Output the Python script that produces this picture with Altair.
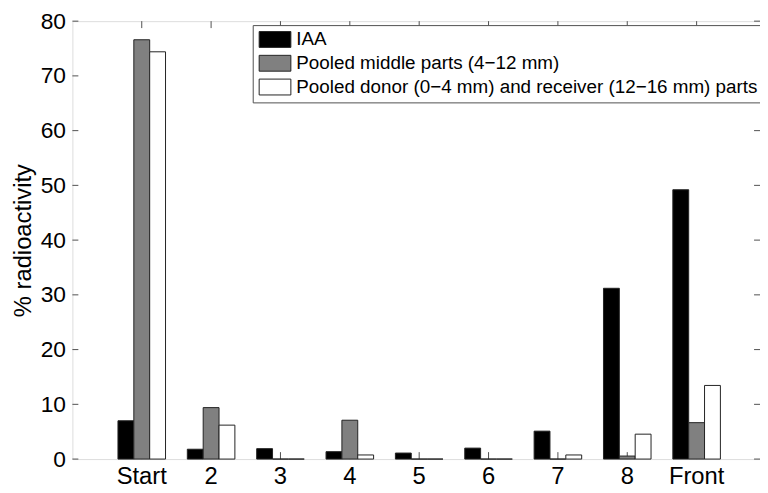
import altair as alt
import pandas as pd

categories = ["Start", "2", "3", "4", "5", "6", "7", "8", "Front"]
series = [
    "IAA",
    "Pooled middle parts (4\u221212 mm)",
    "Pooled donor (0\u22124 mm) and receiver (12\u221216 mm) parts",
]
iaa = [7.0, 1.8, 1.9, 1.35, 1.1, 2.0, 5.1, 31.2, 49.2]
middle = [76.6, 9.4, 0.0, 7.1, 0.0, 0.0, 0.0, 0.55, 6.65]
donor = [74.4, 6.2, 0.0, 0.75, 0.0, 0.0, 0.75, 4.55, 13.45]
colors = ["#000000", "#808080", "#ffffff"]
yticks = [0, 10, 20, 30, 40, 50, 60, 70, 80]

rows = []
for vals, s in zip([iaa, middle, donor], series):
    for c, v in zip(categories, vals):
        rows.append({"cat": c, "series": s, "value": v})
df = pd.DataFrame(rows)
cat_df = pd.DataFrame({"cat": categories})
ytick_df = pd.DataFrame({"y": yticks})

W, H = 694, 442
FONT = "Liberation Sans"
AX = "#505050"

xscale = alt.Scale(domain=categories, paddingInner=0.3143, paddingOuter=0.614, align=0.535, round=False)
yscale = alt.Scale(domain=[0, 80], nice=False)

x_enc = alt.X("cat:N", scale=xscale, sort=categories,
              axis=alt.Axis(title=None, labelAngle=0, ticks=False, domain=False,
                            labelFontSize=24, labelPadding=6, labelFont=FONT,
                            labelColor="black"))

bottom_ticks = alt.Chart(cat_df).mark_rule(color=AX, strokeWidth=1).encode(
    x=x_enc, y=alt.value(H - 7), y2=alt.value(H))
top_ticks = alt.Chart(cat_df).mark_rule(color=AX, strokeWidth=1).encode(
    x=alt.X("cat:N", scale=xscale, sort=categories), y=alt.value(0), y2=alt.value(7))

bars = alt.Chart(df).mark_bar(stroke="#222222", strokeWidth=1).encode(
    x=alt.X("cat:N", scale=xscale, sort=categories),
    xOffset=alt.XOffset("series:N", sort=series,
                        scale=alt.Scale(domain=series, paddingInner=0, paddingOuter=0)),
    y=alt.Y("value:Q", scale=yscale,
            axis=alt.Axis(values=yticks, ticks=False, domain=False, grid=False,
                          labelFontSize=23, labelPadding=7, labelFont=FONT,
                          labelColor="black",
                          title="% radioactivity", titleFontSize=24,
                          titleFontWeight="normal", titleFont=FONT,
                          titleColor="black", titlePadding=5)),
    color=alt.Color("series:N", sort=series,
                    scale=alt.Scale(domain=series, range=colors),
                    legend=alt.Legend(title=None, orient="none", legendX=182, legendY=4,
                                      symbolType="M-2,-1H2V1H-2Z", symbolSize=256,
                                      symbolOffset=8,
                                      symbolStrokeColor="#222222", symbolStrokeWidth=1,
                                      symbolOpacity=1,
                                      labelFontSize=19, labelFont=FONT, labelColor="black",
                                      labelOffset=12, labelLimit=700,
                                      rowPadding=3, padding=5,
                                      strokeColor=AX, fillColor="white")),
)

left_ticks = alt.Chart(ytick_df).mark_rule(color=AX, strokeWidth=1).encode(
    y=alt.Y("y:Q", scale=yscale), x=alt.value(0), x2=alt.value(6))
right_ticks = alt.Chart(ytick_df).mark_rule(color=AX, strokeWidth=1).encode(
    y=alt.Y("y:Q", scale=yscale), x=alt.value(W - 6), x2=alt.value(W))

chart = alt.layer(bottom_ticks, top_ticks, left_ticks, right_ticks, bars).properties(
    width=W, height=H,
    autosize=alt.AutoSizeParams(type="none"),
    padding={"left": 65, "top": 11, "right": 0, "bottom": 35},
).configure_view(stroke=AX, strokeWidth=1.2).configure(background="white")

chart.save("out.html", embed_options={"renderer": "svg", "actions": False})
